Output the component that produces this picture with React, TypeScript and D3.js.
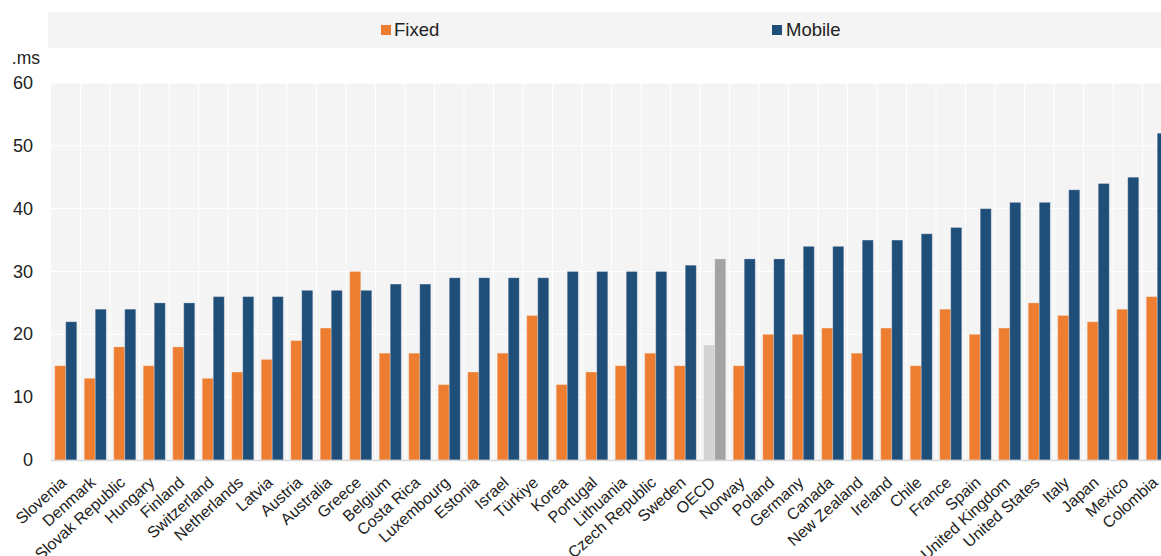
import React from "react";
import * as d3 from "d3";

const countries = ["Slovenia","Denmark","Slovak Republic","Hungary","Finland","Switzerland","Netherlands","Latvia","Austria","Australia","Greece","Belgium","Costa Rica","Luxembourg","Estonia","Israel","Türkiye","Korea","Portugal","Lithuania","Czech Republic","Sweden","OECD","Norway","Poland","Germany","Canada","New Zealand","Ireland","Chile","France","Spain","United Kingdom","United States","Italy","Japan","Mexico","Colombia"];
const fixedValues = [15,13,18,15,18,13,14,16,19,21,30,17,17,12,14,17,23,12,14,15,17,15,18.3,15,20,20,21,17,21,15,24,20,21,25,23,22,24,26];
const mobileValues = [22,24,24,25,25,26,26,26,27,27,27,28,28,29,29,29,29,30,30,30,30,31,32,32,32,34,34,35,35,36,37,40,41,41,43,44,45,52];
const yTicks = [0,10,20,30,40,50,60];
const seriesNames = ["Fixed","Mobile"];
const unitLabel = ".ms";

const W = 1161, H = 556;
const FONT = "'Liberation Sans', Arial, sans-serif";
const colors = { Fixed: "#ed7d31", Mobile: "#1f4e79" };
const oecdColors = { Fixed: "#d3d3d3", Mobile: "#a3a3a3" };

export default function App() {
  const x = d3.scaleBand<string>().domain(countries).range([51, 51 + 38 * 29.5]).paddingInner(0).paddingOuter(0);
  const sub = d3.scaleBand<string>().domain(seriesNames).range([0, x.bandwidth()]).paddingInner(0).paddingOuter(0.34);
  const y = d3.scaleLinear().domain([0, 60]).range([460, 83]);
  const x0 = 51, x1 = 51 + 38 * 29.5;

  return (
    <svg width={W} height={H} style={{ position: "absolute", left: 0, top: 0, display: "block" }} fontFamily={FONT}>
      {/* legend */}
      <rect x={48} y={12} width={W - 48} height={36} fill="#f4f4f4" />
      <rect x={381} y={25} width={10} height={10} fill={colors.Fixed} />
      <text x={394} y={36} fontSize={18.5} fill="#222">{seriesNames[0]}</text>
      <rect x={772} y={25} width={10} height={10} fill={colors.Mobile} />
      <text x={786} y={36} fontSize={18.5} fill="#222">{seriesNames[1]}</text>

      {/* plot bg */}
      <rect x={x0} y={y(60)} width={x1 - x0} height={y(0) - y(60)} fill="#f4f4f4" />
      {countries.map((c, i) => i > 0 ? (
        <line key={"v" + c} x1={x(c)!} x2={x(c)!} y1={y(60)} y2={y(0)} stroke="#fff" strokeWidth={1} />
      ) : null)}
      {yTicks.filter(t => t > 0).map(t => (
        <line key={"h" + t} x1={x0} x2={x1} y1={y(t)} y2={y(t)} stroke="#fff" strokeWidth={1} />
      ))}

      {/* y labels */}
      <text x={40} y={64} fontSize={17.5} fill="#222" textAnchor="end">{unitLabel}</text>
      {yTicks.map(t => (
        <text key={"yl" + t} x={33} y={y(t) + 6} fontSize={18} fill="#222" textAnchor="end">{t}</text>
      ))}

      {/* bars */}
      {countries.map((c, i) => {
        const isO = c === "OECD";
        const vals = [fixedValues[i], mobileValues[i]];
        return seriesNames.map((s, k) => {
          const bx = x(c)! + sub(s)!;
          const fill = isO ? (oecdColors as any)[s] : (colors as any)[s];
          return (
            <rect key={c + s} x={bx} y={y(vals[k])} width={sub.bandwidth()} height={y(0) - y(vals[k])}
              fill={fill} stroke="#ffffff" strokeOpacity={0.25} strokeWidth={1} />
          );
        });
      })}

      {/* axis line */}
      <line x1={x0} x2={x1} y1={y(0) + 0.5} y2={y(0) + 0.5} stroke="#d9d9d9" strokeWidth={1.5} />

      {/* x labels */}
      {countries.map(c => {
        const cx = x(c)! + x.bandwidth() / 2 + 1.5;
        const cy = 484;
        return (
          <text key={"xl" + c} x={cx} y={cy} fontSize={16} fill="#222" textAnchor="end"
            transform={`rotate(-42, ${cx}, ${cy})`}>{c}</text>
        );
      })}
    </svg>
  );
}
